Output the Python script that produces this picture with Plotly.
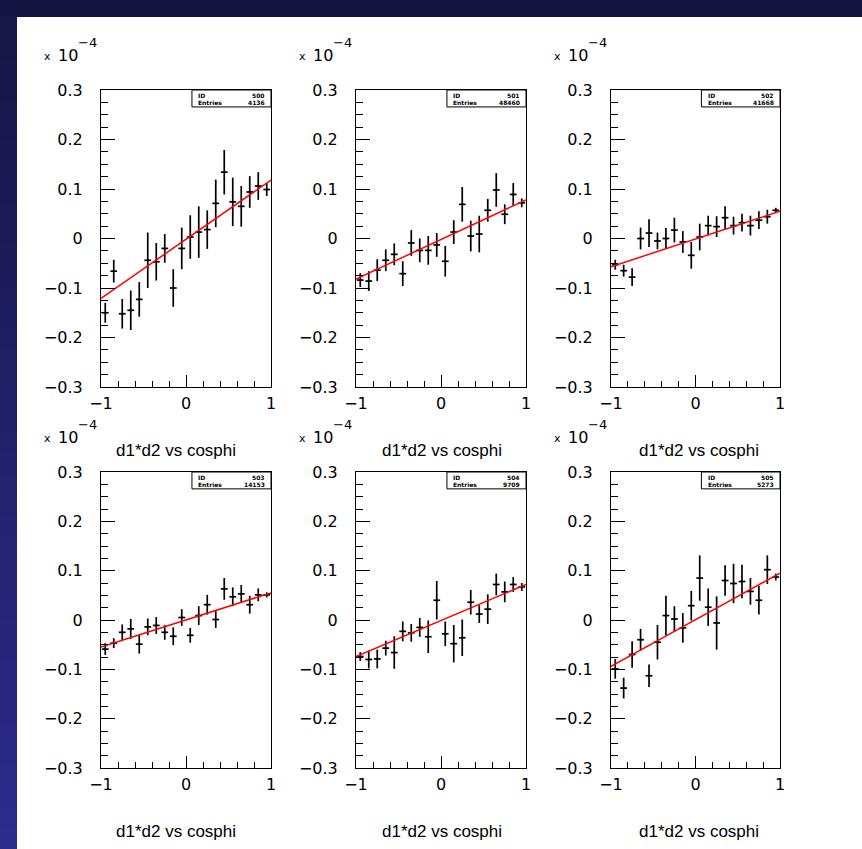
import numpy as np
import plotly.graph_objects as go

# Bin centres of the 20 cosphi bins
cosphi = [-0.95, -0.85, -0.75, -0.65, -0.55, -0.45, -0.35, -0.25, -0.15, -0.05,
          0.05, 0.15, 0.25, 0.35, 0.45, 0.55, 0.65, 0.75, 0.85, 0.95]
half_bin = 0.04

# Profile values (units of 1e-4) and their errors, one pair per histogram
y500 = [-0.150, -0.066, -0.152, -0.145, -0.123, -0.044, -0.047, -0.020, -0.100, -0.020,
        0.003, 0.013, 0.018, 0.071, 0.134, 0.074, 0.065, 0.094, 0.106, 0.099]
e500 = [0.020, 0.023, 0.030, 0.040, 0.035, 0.056, 0.038, 0.029, 0.038, 0.042,
        0.044, 0.052, 0.039, 0.048, 0.045, 0.049, 0.041, 0.032, 0.028, 0.013]

y501 = [-0.084, -0.086, -0.064, -0.044, -0.032, -0.071, -0.009, -0.024, -0.024, -0.013,
        -0.046, 0.013, 0.069, 0.005, 0.009, 0.057, 0.098, 0.049, 0.089, 0.072]
e501 = [0.014, 0.020, 0.022, 0.022, 0.022, 0.025, 0.026, 0.024, 0.029, 0.024,
        0.031, 0.024, 0.035, 0.031, 0.037, 0.023, 0.034, 0.020, 0.023, 0.009]

y502 = [-0.053, -0.065, -0.078, 0.000, 0.011, -0.005, 0.000, 0.017, -0.007, -0.034,
        0.003, 0.026, 0.024, 0.042, 0.026, 0.032, 0.026, 0.037, 0.044, 0.057]
e502 = [0.010, 0.012, 0.018, 0.022, 0.028, 0.017, 0.021, 0.025, 0.022, 0.027,
        0.027, 0.020, 0.021, 0.023, 0.018, 0.018, 0.020, 0.018, 0.014, 0.005]

y503 = [-0.059, -0.047, -0.025, -0.018, -0.049, -0.014, -0.011, -0.025, -0.033, 0.005,
        -0.031, 0.009, 0.031, 0.001, 0.063, 0.047, 0.053, 0.031, 0.051, 0.051]
e503 = [0.012, 0.010, 0.016, 0.020, 0.019, 0.017, 0.017, 0.015, 0.018, 0.017,
        0.015, 0.019, 0.020, 0.017, 0.022, 0.019, 0.018, 0.018, 0.013, 0.005]

y504 = [-0.074, -0.080, -0.079, -0.057, -0.066, -0.023, -0.026, -0.015, -0.034, 0.040,
        -0.028, -0.048, -0.036, 0.036, 0.012, 0.022, 0.072, 0.057, 0.072, 0.067]
e504 = [0.009, 0.018, 0.019, 0.015, 0.033, 0.020, 0.018, 0.019, 0.033, 0.039,
        0.025, 0.038, 0.037, 0.025, 0.018, 0.030, 0.022, 0.021, 0.015, 0.008]

y505 = [-0.099, -0.138, -0.070, -0.040, -0.113, -0.045, 0.009, 0.002, -0.016, 0.029,
        0.085, 0.026, -0.006, 0.080, 0.074, 0.078, 0.058, 0.040, 0.102, 0.087]
e505 = [0.020, 0.021, 0.027, 0.022, 0.023, 0.035, 0.040, 0.026, 0.030, 0.030,
        0.046, 0.038, 0.054, 0.031, 0.040, 0.034, 0.027, 0.029, 0.029, 0.007]

# Straight-line fit parameters p0 + p1*cosphi
fit_p0 = [-0.0015, -0.002, -0.001, 0.000, -0.001, 0.0005]
fit_p1 = [0.1195, 0.080, 0.056, 0.055, 0.073, 0.0945]

# Statistics box contents
hist_ids = ["500", "501", "502", "503", "504", "505"]
hist_entries = ["4136", "48460", "41668", "14153", "9709", "5273"]

x_title = "d1*d2 vs cosphi"
y_ticks = [-0.3, -0.2, -0.1, 0, 0.1, 0.2, 0.3]

profiles = [(y500, e500), (y501, e501), (y502, e502),
            (y503, e503), (y504, e504), (y505, e505)]

W, H = 862, 849
# Frame pixel boxes (left, right, top, bottom)
cols = [(101, 271), (356, 526), (611, 780)]
rows = [(90, 387), (472, 768)]

TICK_FONT = dict(family="DejaVu Sans", size=16, color="black")

fig = go.Figure()
layout = dict(width=W, height=H,
              margin=dict(l=0, r=0, t=0, b=0, pad=0, autoexpand=False),
              paper_bgcolor="#141443", plot_bgcolor="white", showlegend=False)
shapes, annotations = [], []

# White canvas and the shaded strip on the left
shapes.append(dict(type="rect", xref="paper", yref="paper", layer="below",
                   x0=17 / W, x1=1, y0=0, y1=1 - 17 / H,
                   fillcolor="white", line=dict(width=0)))
n_band = 40
for k in range(n_band):
    t = k / (n_band - 1)
    r = int(0x16 + (0x2c - 0x16) * t)
    g = int(0x16 + (0x2c - 0x16) * t)
    b = int(0x48 + (0x8e - 0x48) * t)
    ytop = 17 + (H - 17) * k / n_band
    ybot = 17 + (H - 17) * (k + 1) / n_band
    shapes.append(dict(type="rect", xref="paper", yref="paper", layer="below",
                       x0=0, x1=17 / W, y0=1 - ybot / H, y1=1 - ytop / H + 0.001,
                       fillcolor=f"rgb({r},{g},{b})", line=dict(width=0)))

for i, (yv, ev) in enumerate(profiles):
    r_i, c_i = divmod(i, 3)
    left, right = cols[c_i]
    top, bot = rows[r_i]
    n = "" if i == 0 else str(i + 1)
    xa, ya = "x" + n, "y" + n

    layout["xaxis" + n] = dict(
        domain=[left / W, right / W], anchor=ya, range=[-1, 1], automargin=False,
        tickmode="array", tickvals=[-1, 0, 1], ticktext=["\u22121", "0", "1"],
        ticks="inside", ticklen=12, tickcolor="black", tickwidth=1,
        minor=dict(ticks="inside", ticklen=6, tickmode="linear", tick0=-1, dtick=0.2,
                   tickcolor="black", tickwidth=1, showgrid=False),
        showline=True, linecolor="black", linewidth=1, mirror=True,
        showgrid=False, zeroline=False, tickfont=TICK_FONT, ticklabelstandoff=2)
    layout["yaxis" + n] = dict(
        domain=[1 - bot / H, 1 - top / H], anchor=xa, range=[-0.3, 0.3], automargin=False,
        tickmode="array", tickvals=y_ticks,
        ticktext=[("\u2212" + f"{abs(v):g}") if v < 0 else f"{v:g}" for v in y_ticks],
        ticks="inside", ticklen=14, tickcolor="black", tickwidth=1,
        minor=dict(ticks="inside", ticklen=7, tickmode="linear", tick0=-0.3, dtick=0.025,
                   tickcolor="black", tickwidth=1, showgrid=False),
        showline=True, linecolor="black", linewidth=1, mirror=True,
        showgrid=False, zeroline=False, tickfont=TICK_FONT, ticklabelstandoff=14)

    # Profile points with their error crosses
    fig.add_trace(go.Scatter(
        x=cosphi, y=yv, xaxis=xa, yaxis=ya, mode="markers",
        marker=dict(size=2, color="black"),
        error_x=dict(type="constant", value=half_bin, width=0, thickness=1.7, color="black"),
        error_y=dict(type="data", array=ev, width=0, thickness=1.7, color="black"),
        hoverinfo="skip"))

    # Fitted straight line
    xf = np.array([-1.0, 1.0])
    fig.add_trace(go.Scatter(
        x=xf, y=fit_p0[i] + fit_p1[i] * xf, xaxis=xa, yaxis=ya, mode="lines",
        line=dict(color="#ff0000", width=1.5), hoverinfo="skip"))

    # Statistics box
    dx, dy = xa + " domain", ya + " domain"
    shapes.append(dict(type="rect", xref=dx, yref=dy, x0=0.535, x1=1.0, y0=0.943, y1=1.0,
                       fillcolor="white", line=dict(color="black", width=1)))
    stat_font = dict(family="DejaVu Sans", size=6, color="black")
    for row_y, label, val in [(0.982, "ID", hist_ids[i]), (0.958, "Entries", hist_entries[i])]:
        annotations.append(dict(xref=dx, yref=dy, x=0.56, y=row_y, text=f"<b>{label}</b>",
                                showarrow=False, xanchor="left", yanchor="middle", font=stat_font))
        annotations.append(dict(xref=dx, yref=dy, x=0.975, y=row_y, text=f"<b>{val}</b>",
                                showarrow=False, xanchor="right", yanchor="middle", font=stat_font))

    # Axis scale factor "x 10^-4"
    annotations.append(dict(xref="paper", yref="paper", x=(left - 59) / W, y=1 - (top - 34) / H,
                            text="x", showarrow=False, xanchor="left", yanchor="middle",
                            font=dict(family="DejaVu Sans", size=11, color="black")))
    annotations.append(dict(xref="paper", yref="paper", x=(left - 45) / W, y=1 - (top - 35) / H,
                            text="10", showarrow=False, xanchor="left", yanchor="middle",
                            font=dict(family="DejaVu Sans", size=16, color="black")))
    annotations.append(dict(xref="paper", yref="paper", x=(left - 25) / W, y=1 - (top - 48) / H,
                            text="\u22124", showarrow=False, xanchor="left", yanchor="middle",
                            font=dict(family="DejaVu Sans", size=13, color="black")))

    # Axis title below each pad
    title_cx = [176, 442, 699][c_i]
    annotations.append(dict(xref="paper", yref="paper", x=title_cx / W, y=1 - (bot + 63) / H,
                            text=x_title, showarrow=False, xanchor="center", yanchor="middle",
                            font=dict(family="Liberation Sans", size=17, color="black")))

layout["shapes"] = shapes
layout["annotations"] = annotations
fig.update_layout(**layout)
fig.write_html("out.html")
